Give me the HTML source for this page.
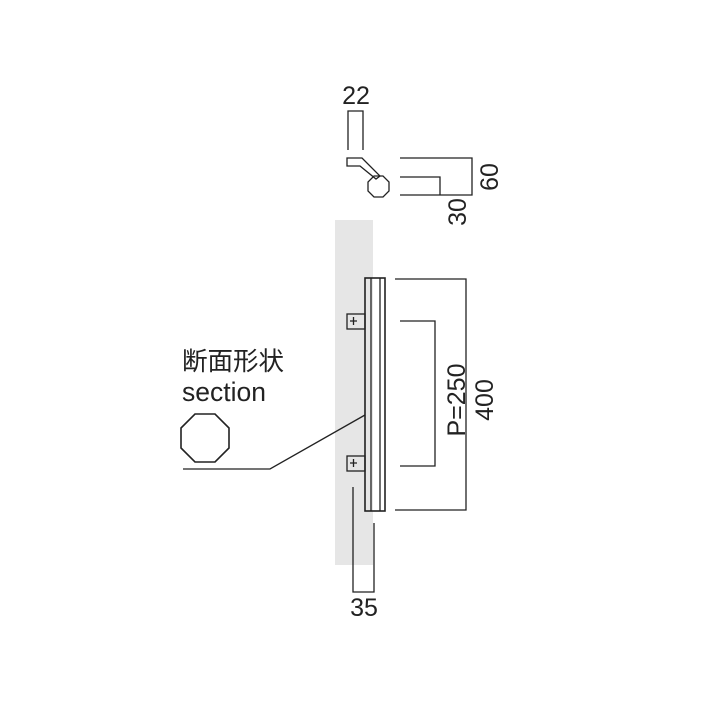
<!DOCTYPE html>
<html><head><meta charset="utf-8"><style>body{margin:0;background:#fff}svg{display:block}</style></head><body>
<svg width="709" height="709" viewBox="0 0 709 709" xmlns="http://www.w3.org/2000/svg" font-family="Liberation Sans, Noto Sans CJK JP, sans-serif">
<rect x="335" y="220" width="38" height="345" fill="#e6e6e6"/>
<g fill="none" stroke="#222" stroke-width="1.3">
<path d="M348 150V111H363V150"/>
<path d="M347 158H362L380 176L376 179L360 166H347Z"/>
<polygon points="374,176 383,176 389,182 389,191 383,197 374,197 368,191 368,182"/>
<path d="M400 158H472V195H400M400 177H440V195"/>
<rect x="365" y="278" width="20" height="233" stroke-width="1.6"/>
<path d="M371 278V511M380 278V511"/>
<rect x="347" y="314" width="18" height="15"/>
<rect x="347" y="456" width="18" height="15"/>
<path d="M350 321H357M353.5 317V325M350 463H357M353.5 459V467"/>
<path d="M395 279H466V510H395M400 321H435V466H400"/>
<path d="M353 487V592H374V523"/>
<polygon points="195,414 215,414 229,428 229,448 215,462 195,462 181,448 181,428" stroke-width="1.6"/>
<path d="M183 469H270L365 415"/>
</g>
<g fill="#222">
<text x="356" y="104" font-size="25" text-anchor="middle">22</text>
<text x="364" y="616" font-size="25" text-anchor="middle">35</text>
<text transform="translate(498,177) rotate(-90)" font-size="25" text-anchor="middle">60</text>
<text transform="translate(466,212) rotate(-90)" font-size="25" text-anchor="middle">30</text>
<text transform="translate(465,400) rotate(-90)" font-size="25" text-anchor="middle">P=250</text>
<text transform="translate(493,400) rotate(-90)" font-size="25" text-anchor="middle">400</text>
<text x="182" y="370" font-size="25.5">断面形状</text>
<text x="182" y="401" font-size="26.5">section</text>
</g>
</svg>
</body></html>
